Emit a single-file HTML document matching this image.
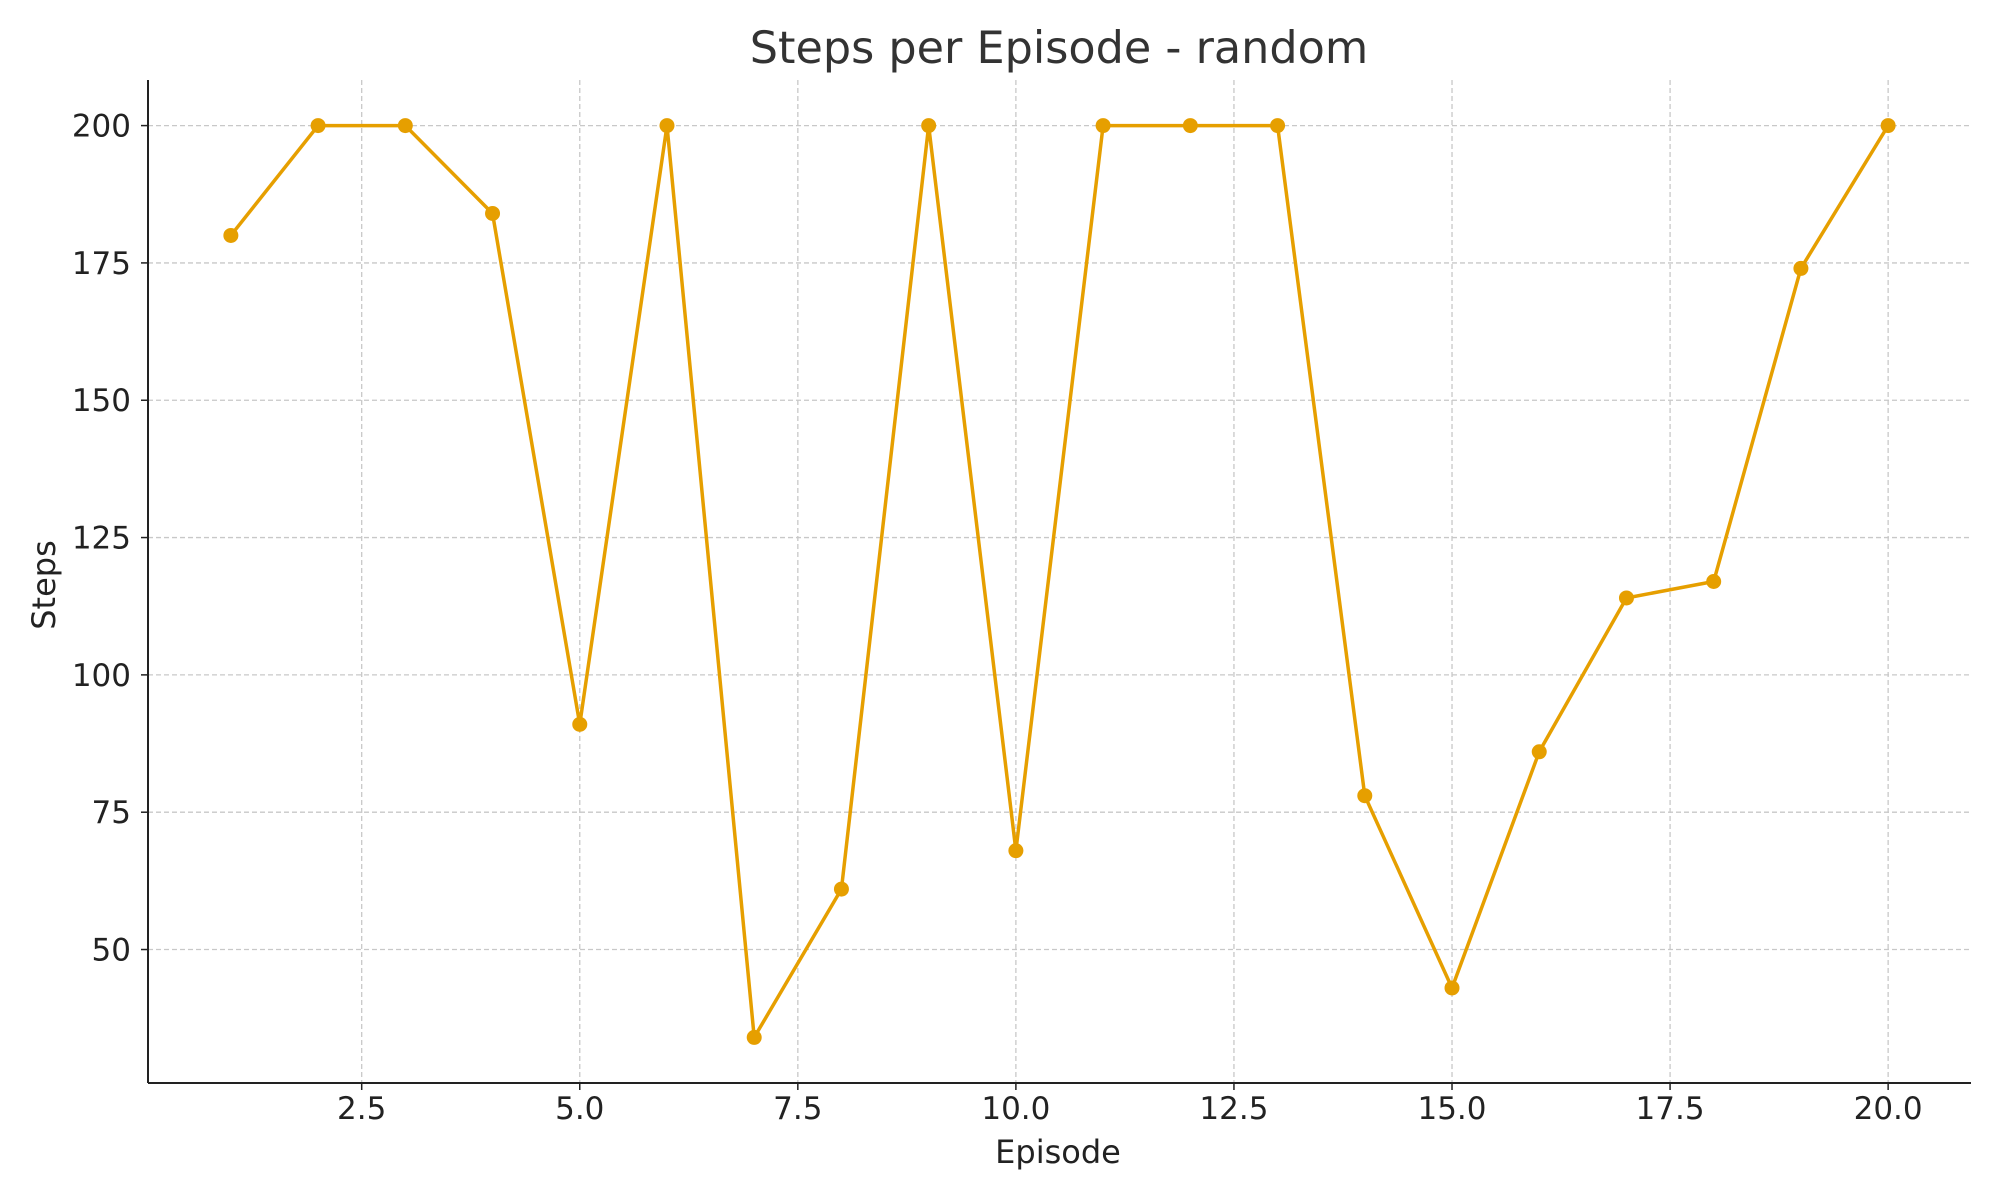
<!DOCTYPE html>
<html><head><meta charset="utf-8"><style>
body{margin:0;background:#fff;}
svg{display:block;font-family:"DejaVu Sans","Liberation Sans",sans-serif;}
</style></head><body>
<svg id="chart" width="2000" height="1200" viewBox="0 0 2000 1200">
<text x="1059" y="63" font-size="44.5" text-anchor="middle" fill="#333">Steps per Episode - random</text>
<g id="grid"></g><g id="axes"></g><g id="series"></g>
<text x="1058" y="1163" font-size="32" text-anchor="middle" fill="#222">Episode</text>
<text transform="translate(55,585) rotate(-90)" font-size="32" text-anchor="middle" fill="#222">Steps</text>
</svg>
<script>
const episodes=[1,2,3,4,5,6,7,8,9,10,11,12,13,14,15,16,17,18,19,20];
const steps=[180,200,200,184,91,200,34,61,200,68,200,200,200,78,43,86,114,117,174,200];
const xTicks=[2.5,5.0,7.5,10.0,12.5,15.0,17.5,20.0];
const yTicks=[50,75,100,125,150,175,200];
const L=148,R=1971,T=80,B=1083;
const xmin=0.05,xmax=20.95,ymin=25.7,ymax=208.3;
const sx=v=>L+(v-xmin)/(xmax-xmin)*(R-L);
const sy=v=>B-(v-ymin)/(ymax-ymin)*(B-T);
const NS="http://www.w3.org/2000/svg";
function mk(t,a,p){const e=document.createElementNS(NS,t);for(const k in a)e.setAttribute(k,a[k]);p.appendChild(e);return e;}
const g=document.getElementById('grid'),ax=document.getElementById('axes'),s=document.getElementById('series');
xTicks.forEach(v=>{const x=sx(v);
const l=mk('line',{x1:x,x2:x,y1:T,y2:B,stroke:'#c8c8c8','stroke-width':1.3,'stroke-dasharray':'5,3'},g);


mk('line',{x1:x,x2:x,y1:B,y2:B+7,stroke:'#222','stroke-width':1.5},ax);
const t=mk('text',{x:x,y:B+36,'font-size':31,'text-anchor':'middle',fill:'#222'},ax);t.textContent=v.toFixed(1);

});
yTicks.forEach(v=>{const y=sy(v);
const l=mk('line',{x1:L,x2:R,y1:y,y2:y,stroke:'#c8c8c8','stroke-width':1.3,'stroke-dasharray':'5,3'},g);


mk('line',{x1:L-7,x2:L,y1:y,y2:y,stroke:'#222','stroke-width':1.5},ax);
const t=mk('text',{x:L-17,y:y+11,'font-size':31,'text-anchor':'end',fill:'#222'},ax);t.textContent=v;

});
const a1=mk('line',{x1:L,x2:L,y1:T,y2:B,stroke:'#222','stroke-width':2},ax);


const a2=mk('line',{x1:L,x2:R,y1:B,y2:B,stroke:'#222','stroke-width':2},ax);


const pl=mk('polyline',{points:episodes.map((e,i)=>sx(e)+','+sy(steps[i])).join(' '),fill:'none',stroke:'#e69f00','stroke-width':3.5,'stroke-linejoin':'round'},s);


episodes.forEach((e,i)=>{const c=mk('circle',{cx:sx(e),cy:sy(steps[i]),r:7.5,fill:'#e69f00'},s);

});
</script>
</body></html>
